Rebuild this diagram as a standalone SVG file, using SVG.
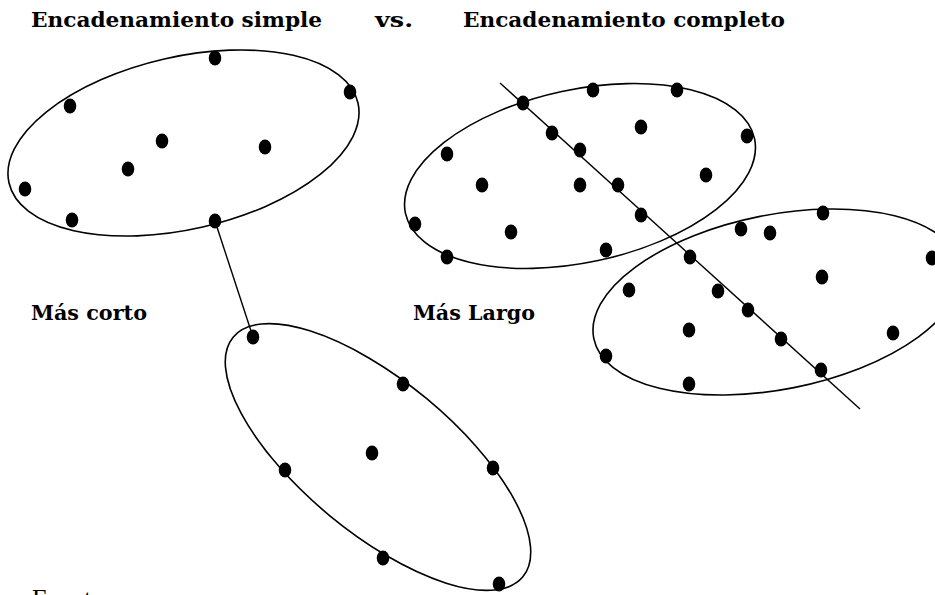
<svg xmlns="http://www.w3.org/2000/svg" xmlns:xlink="http://www.w3.org/1999/xlink" width="935" height="595" viewBox="0 0 935 595">
<style>
.cl{fill:none;stroke:#000;stroke-width:1.6}
.ln{stroke:#000;stroke-width:1.4;fill:none}
.t{font-family:"DejaVu Serif","Liberation Serif",serif;font-weight:bold;font-size:20px;fill:#000}
.f{font-family:"Liberation Serif",serif;font-size:26px;fill:#000}
</style>
<defs>
<ellipse id="dot" cx="0" cy="0" rx="6.3" ry="7.5" fill="#000"/>
</defs>
<rect width="935" height="595" fill="#fff"/>
<g id="labels">
<text class="t" x="31" y="27" textLength="291" lengthAdjust="spacingAndGlyphs">Encadenamiento simple</text>
<text class="t" x="375" y="27" textLength="38" lengthAdjust="spacingAndGlyphs">vs.</text>
<text class="t" x="463" y="27" textLength="322" lengthAdjust="spacingAndGlyphs">Encadenamiento completo</text>
<text class="t" x="31" y="320" textLength="116" lengthAdjust="spacingAndGlyphs">Más corto</text>
<text class="t" x="413" y="320" textLength="122" lengthAdjust="spacingAndGlyphs">Más Largo</text>
<text class="f" x="32" y="607">Fuente:</text>
</g>
<g id="connectors">
<line class="ln" x1="215" y1="221" x2="253" y2="337"/>
<line class="ln" x1="500" y1="83" x2="860" y2="409"/>
</g>
<g id="cluster-a">
<ellipse class="cl" cx="183.5" cy="143" rx="179" ry="86.2" transform="rotate(-12.9 183.5 143)"/>
<use xlink:href="#dot" x="215" y="58"/>
<use xlink:href="#dot" x="350" y="92"/>
<use xlink:href="#dot" x="70" y="106"/>
<use xlink:href="#dot" x="162" y="141"/>
<use xlink:href="#dot" x="265" y="147"/>
<use xlink:href="#dot" x="128" y="169"/>
<use xlink:href="#dot" x="25" y="189"/>
<use xlink:href="#dot" x="72" y="220"/>
<use xlink:href="#dot" x="215" y="221"/>
</g>
<g id="cluster-b">
<ellipse class="cl" cx="378" cy="457" rx="188" ry="76" transform="rotate(39.6 378 457)"/>
<use xlink:href="#dot" x="253" y="337"/>
<use xlink:href="#dot" x="403" y="384"/>
<use xlink:href="#dot" x="372" y="453"/>
<use xlink:href="#dot" x="285" y="470"/>
<use xlink:href="#dot" x="493" y="468"/>
<use xlink:href="#dot" x="383" y="558"/>
<use xlink:href="#dot" x="499" y="584"/>
</g>
<g id="cluster-c">
<ellipse class="cl" cx="580" cy="176" rx="178.5" ry="86.5" transform="rotate(-12.1 580 176)"/>
<use xlink:href="#dot" x="523" y="103"/>
<use xlink:href="#dot" x="593" y="90"/>
<use xlink:href="#dot" x="677" y="90"/>
<use xlink:href="#dot" x="552" y="133"/>
<use xlink:href="#dot" x="641" y="127"/>
<use xlink:href="#dot" x="747" y="136"/>
<use xlink:href="#dot" x="580" y="150"/>
<use xlink:href="#dot" x="447" y="154"/>
<use xlink:href="#dot" x="482" y="185"/>
<use xlink:href="#dot" x="580" y="185"/>
<use xlink:href="#dot" x="618" y="185"/>
<use xlink:href="#dot" x="706" y="175"/>
<use xlink:href="#dot" x="641" y="215"/>
<use xlink:href="#dot" x="415" y="224"/>
<use xlink:href="#dot" x="511" y="232"/>
<use xlink:href="#dot" x="447" y="257"/>
<use xlink:href="#dot" x="606" y="250"/>
</g>
<g id="cluster-d">
<ellipse class="cl" cx="777" cy="302" rx="186.8" ry="87.3" transform="rotate(-11.2 777 302)"/>
<use xlink:href="#dot" x="823" y="213"/>
<use xlink:href="#dot" x="741" y="229"/>
<use xlink:href="#dot" x="770" y="233"/>
<use xlink:href="#dot" x="690" y="257"/>
<use xlink:href="#dot" x="932" y="258"/>
<use xlink:href="#dot" x="822" y="277"/>
<use xlink:href="#dot" x="629" y="290"/>
<use xlink:href="#dot" x="718" y="291"/>
<use xlink:href="#dot" x="748" y="310"/>
<use xlink:href="#dot" x="689" y="330"/>
<use xlink:href="#dot" x="893" y="333"/>
<use xlink:href="#dot" x="781" y="339"/>
<use xlink:href="#dot" x="606" y="356"/>
<use xlink:href="#dot" x="821" y="370"/>
<use xlink:href="#dot" x="689" y="384"/>
</g>
</svg>
